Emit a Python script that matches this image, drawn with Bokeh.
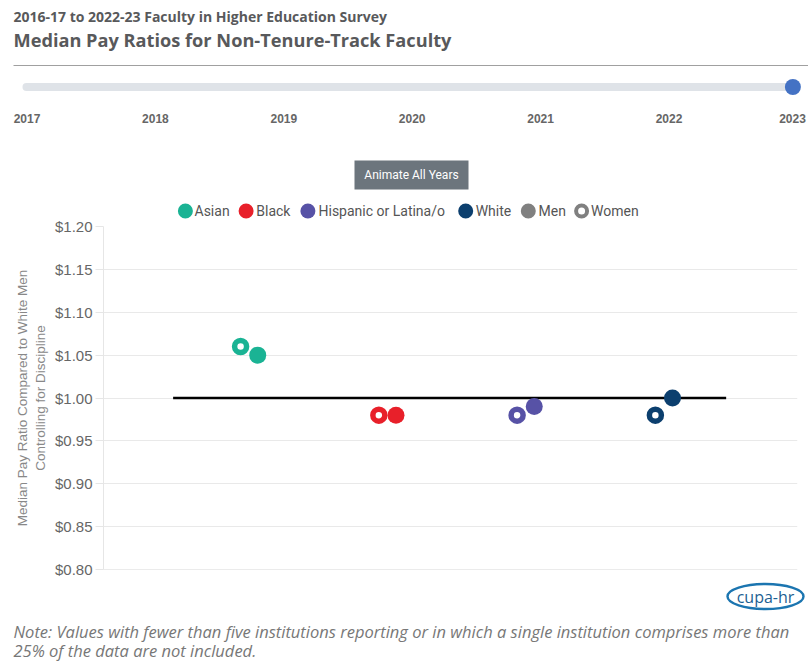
from bokeh.plotting import figure
from bokeh.models import Range1d, FixedTicker, NumeralTickFormatter, Span
from bokeh.core.properties import value
from bokeh.embed import file_html
from bokeh.resources import INLINE
import numpy as np

# ---------------- data ----------------
subtitle = "2016-17 to 2022-23 Faculty in Higher Education Survey"
title = "Median Pay Ratios for Non-Tenure-Track Faculty"
years = [2017, 2018, 2019, 2020, 2021, 2022, 2023]
selected_year = 2023
categories = ["Asian", "Black", "Hispanic or Latina/o", "White"]
women = [1.06, 0.98, 0.98, 0.98]
men = [1.05, 0.98, 0.99, 1.00]
colors = ["#1ab394", "#e8202a", "#5752a6", "#0c3f6e"]
legend_labels = ["Asian", "Black", "Hispanic or Latina/o", "White", "Men", "Women"]
legend_colors = ["#1ab394", "#e8202a", "#5752a6", "#0c3f6e", "#808080", "#808080"]
y_ticks = [0.80, 0.85, 0.90, 0.95, 1.00, 1.05, 1.10, 1.15, 1.20]
ref_value = 1.00
ref_span = [0.45, 4.45]
y_title = "Median Pay Ratio Compared to White Men\nControlling for Discipline"
note_lines = ["Note: Values with fewer than five institutions reporting or in which a single institution comprises more than",
              "25% of the data are not included."]
button_text = "Animate All Years"
logo_text = "cupa-hr"

# ---------------- figure ----------------
W, H = 808, 661
FL, FR, FT, FB = 103, 797, 226, 569   # plot frame edges in page pixels
TXT = "#58595b"

p = figure(width=W, height=H, x_range=Range1d(-0.0535, 4.966), y_range=Range1d(0.80, 1.20),
           x_axis_location=None, output_backend="svg", toolbar_location=None,
           min_border_left=FL, min_border_right=W - FR, min_border_top=FT, min_border_bottom=H - FB)
p.outline_line_color = None
# pixel-space ranges for the decorations around the chart
p.extra_x_ranges = {"px": Range1d(FL, FR)}
p.extra_y_ranges = {"px": Range1d(FB, FT)}

ticker = FixedTicker(ticks=y_ticks)
p.yaxis.ticker = ticker
p.yaxis.formatter = NumeralTickFormatter(format="$0.00")
p.yaxis.major_label_text_font = "Liberation Sans"
p.yaxis.major_label_text_font_size = "15px"
p.yaxis.major_label_text_color = "#666666"
p.yaxis.axis_line_color = "#e6e6e6"
p.yaxis.major_tick_line_color = "#e6e6e6"
p.yaxis.major_tick_in = 0
p.yaxis.major_tick_out = 8
p.yaxis.major_label_standoff = 3
p.yaxis.minor_tick_line_color = None
p.yaxis.axis_label = y_title
p.yaxis.axis_label_text_font = "Liberation Sans"
p.yaxis.axis_label_text_font_style = "normal"
p.yaxis.axis_label_text_font_size = "13.5px"
p.yaxis.axis_label_text_color = "#888888"
p.yaxis.axis_label_standoff = 4
p.ygrid.ticker = ticker
p.ygrid.grid_line_color = "#e9e9e9"
p.xgrid.visible = False
p.add_layout(Span(location=y_ticks[0], dimension="width", line_color="#d8d8d8", line_width=1))

p.line(x=ref_span, y=[ref_value, ref_value], line_color="black", line_width=2.5)

xc = np.arange(1, len(categories) + 1)
off = 0.062
p.scatter(x=xc - off, y=women, marker="circle", size=12, fill_color="white",
          line_color=colors, line_width=5.5)
p.scatter(x=xc + off, y=men, marker="circle", size=17, fill_color=colors, line_color=None)

PX = dict(x_range_name="px", y_range_name="px", level="annotation")


def text(x, y, t, font, size, color, style="normal", align="left"):
    p.text(x=[x], y=[y], text=[t], text_font=value(font), text_font_size=size, text_color=color,
           text_font_style=style, text_align=align, text_baseline="middle", **PX)


def hline(x0, x1, y, color, width, cap="butt"):
    p.line(x=[x0, x1], y=[y, y], line_color=color, line_width=width, line_cap=cap, **PX)


def dot(x, y, d, color, ring=False):
    if ring:
        p.ellipse(x=[x], y=[y], width=d, height=d, fill_color="white", line_color=color,
                  line_width=4, **PX)
    else:
        p.ellipse(x=[x], y=[y], width=d, height=d, fill_color=color, line_color=None, **PX)


# titles
text(13, 15.5, subtitle, "Open Sans", "14px", TXT, style="bold")
text(13, 39, title, "Open Sans", "18.2px", TXT, style="bold")
hline(13, W, 65, "#a0a0a0", 1)

# slider
yr_x0, yr_step = 26.5, 128.4
yx = [yr_x0 + (y - years[0]) * yr_step for y in years]
hline(26, yx[-1] - 4.5, 86.5, "#dfe3e8", 8, cap="round")
sel_x = yr_x0 + (selected_year - years[0]) * yr_step - 4.5
dot(sel_x, 86.5, 16, "#4472c4")
for x, yv in zip(yx, years):
    text(min(x, W - 16), 118, str(yv), "Liberation Sans", "12px", "#666666", style="bold", align="center")

# button
hline(354, 468, 174.5, "#6c757d", 29)
text(411, 174.5, button_text, "Roboto", "12px", "white", align="center")

# legend
leg_cx = [184.9, 245.6, 307.4, 465.2, 527.8, 581.1]
leg_tx = [194.0, 255.8, 318.0, 475.2, 538.0, 590.5]
ly = 210.5
for i, lab in enumerate(legend_labels):
    if lab == "Women":
        dot(leg_cx[i], ly, 11, legend_colors[i], ring=True)
    else:
        dot(leg_cx[i], ly, 15, legend_colors[i])
    text(leg_tx[i], ly, lab, "Roboto", "14px", "#555555")

# logo
p.ellipse(x=[765], y=[596], width=76, height=25, fill_color=None, line_color="#1b75b0",
          line_width=2.4, **PX)
text(765, 596.5, logo_text, "Open Sans", "16px", "#1d5f93", align="center")

# note
text(13, 631, note_lines[0], "Open Sans", "16.5px", "#777777", style="italic")
text(13, 650, note_lines[1], "Open Sans", "16.5px", "#777777", style="italic")

open("out.html", "w").write(file_html(p, INLINE))
